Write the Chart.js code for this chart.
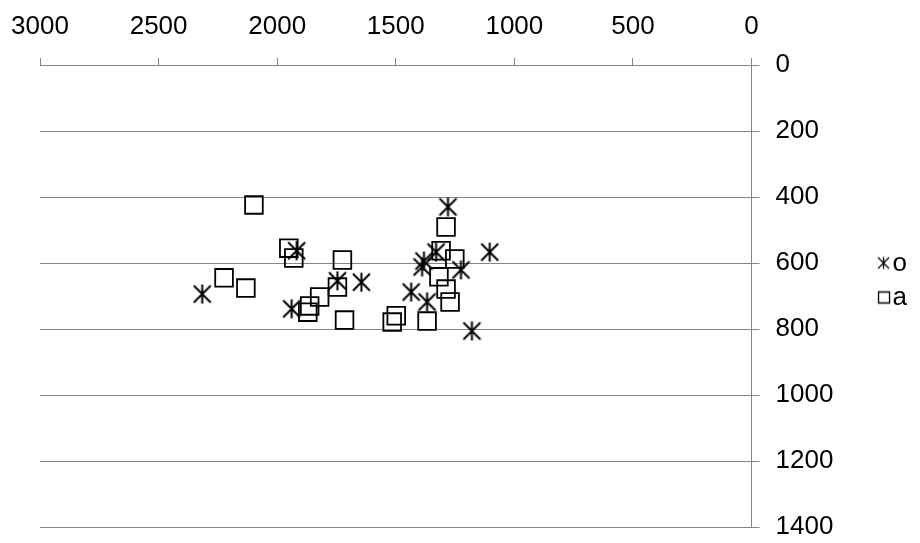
<!DOCTYPE html>
<html>
<head>
<meta charset="utf-8">
<script src="https://cdn.jsdelivr.net/npm/chart.js@4"></script>
<style>
  html, body { margin: 0; padding: 0; background: #fff; }
  #wrap { width: 920px; height: 543px; }
</style>
</head>
<body>
<div id="wrap"><canvas id="drawChart" width="920" height="543"></canvas></div>
<script>
// series o (asterisk markers)
const oX = [2316, 1918, 1746, 1645, 1939, 1280, 1104, 1330, 1381, 1389, 1225, 1435, 1368, 1179];
const oY = [694, 563, 654, 658, 739, 430, 567, 567, 594, 612, 621, 688, 718, 806];
// series a (square markers)
const aX = [2098, 1951, 1930, 1725, 2224, 2132, 1746, 1821, 1863, 1871, 1716, 1288, 1309, 1251, 1318, 1288, 1271, 1498, 1515, 1368];
const aY = [424, 555, 585, 591, 645, 676, 673, 703, 730, 749, 773, 491, 563, 588, 642, 679, 718, 760, 779, 776];
const seriesNames = ['o', 'a'];
const xTicks = [0, 500, 1000, 1500, 2000, 2500, 3000];
const yTicks = [0, 200, 400, 600, 800, 1000, 1200, 1400];

const gray = '#868686';
const font = {family: "'Liberation Sans', Arial, sans-serif", size: 26};

function asterisk(size, lw) {
    const c = document.createElement('canvas');
    c.width = size; c.height = size;
    const g = c.getContext('2d');
    const m = lw;
    g.strokeStyle = '#000';
    g.lineWidth = lw;
    g.beginPath();
    g.moveTo(m, m); g.lineTo(size - m, size - m);
    g.moveTo(size - m, m); g.lineTo(m, size - m);
    g.moveTo(size / 2, m * 0.5); g.lineTo(size / 2, size - m * 0.5);
    g.stroke();
    return c;
}
const starBig = asterisk(21, 2);

// legend markers: drawn in the right part of a wider canvas so the text sits close
function legendMark(kind) {
    const c = document.createElement('canvas');
    c.width = 24; c.height = 16;
    const g = c.getContext('2d');
    g.strokeStyle = '#000';
    g.lineWidth = 1.3;
    g.beginPath();
    if (kind === 'star') {
        g.moveTo(11, 2); g.lineTo(22, 13);
        g.moveTo(22, 2); g.lineTo(11, 13);
        g.moveTo(16.5, 1.5); g.lineTo(16.5, 13.5);
    } else {
        g.rect(11.5, 2.5, 11, 11);
    }
    g.stroke();
    return c;
}

function pts(xs, ys) {
    return xs.map(function (x, i) { return {x: x, y: ys[i]}; });
}

// nudge the legend down a bit, like the original
const legendShift = {
    id: 'legendShift',
    afterLayout: function (chart) {
        chart.legend.top += 9;
        chart.legend.bottom += 9;
    }
};

Chart.defaults.font.family = font.family;
Chart.defaults.color = '#000';

const ctx = document.getElementById('drawChart').getContext('2d');
const myChart = new Chart(ctx, {
    type: 'scatter',
    data: {
        datasets: [{
            label: seriesNames[0],
            data: pts(oX, oY),
            pointStyle: starBig,
            borderColor: '#000',
            backgroundColor: 'rgba(0,0,0,0)'
        }, {
            label: seriesNames[1],
            data: pts(aX, aY),
            pointStyle: 'rect',
            pointRadius: 12.5,
            pointHoverRadius: 12.5,
            borderWidth: 1.8,
            borderColor: '#000',
            backgroundColor: 'rgba(0,0,0,0)'
        }]
    },
    plugins: [legendShift],
    options: {
        responsive: false,
        animation: false,
        layout: {padding: {left: 40, right: 3, top: 0, bottom: 0}},
        plugins: {
            tooltip: {enabled: false},
            legend: {
                position: 'right',
                labels: {
                    font: font,
                    usePointStyle: true,
                    boxWidth: 1,
                    boxHeight: 12,
                    padding: 8,
                    generateLabels: function (chart) {
                        return chart.data.datasets.map(function (ds, i) {
                            return {
                                text: ds.label,
                                datasetIndex: i,
                                pointStyle: legendMark(i === 0 ? 'star' : 'rect'),
                                strokeStyle: '#000',
                                fillStyle: 'rgba(0,0,0,0)',
                                lineWidth: 1.3,
                                fontColor: '#000',
                                hidden: false
                            };
                        });
                    }
                }
            }
        },
        scales: {
            x: {
                position: 'top',
                reverse: true,
                min: 0,
                max: 3000,
                afterBuildTicks: function (s) { s.ticks = xTicks.map(function (v) { return {value: v}; }); },
                afterFit: function (s) { s.height = 65; },
                ticks: {font: font, padding: 16, maxRotation: 0, color: '#000',
                    callback: function (v) { return String(v); }},
                grid: {drawOnChartArea: false, drawTicks: true, tickLength: 7, color: gray, lineWidth: 1},
                border: {color: gray, width: 1}
            },
            y: {
                position: 'right',
                reverse: true,
                min: 0,
                max: 1400,
                afterBuildTicks: function (s) { s.ticks = yTicks.map(function (v) { return {value: v}; }); },
                afterFit: function (s) { s.width = 119; s.paddingBottom = 16; },
                ticks: {font: font, padding: 16, color: '#000',
                    callback: function (v) { return String(v); }},
                grid: {color: gray, lineWidth: 1, tickLength: 8},
                border: {color: gray, width: 1}
            }
        }
    }
});
</script>
</body>
</html>
